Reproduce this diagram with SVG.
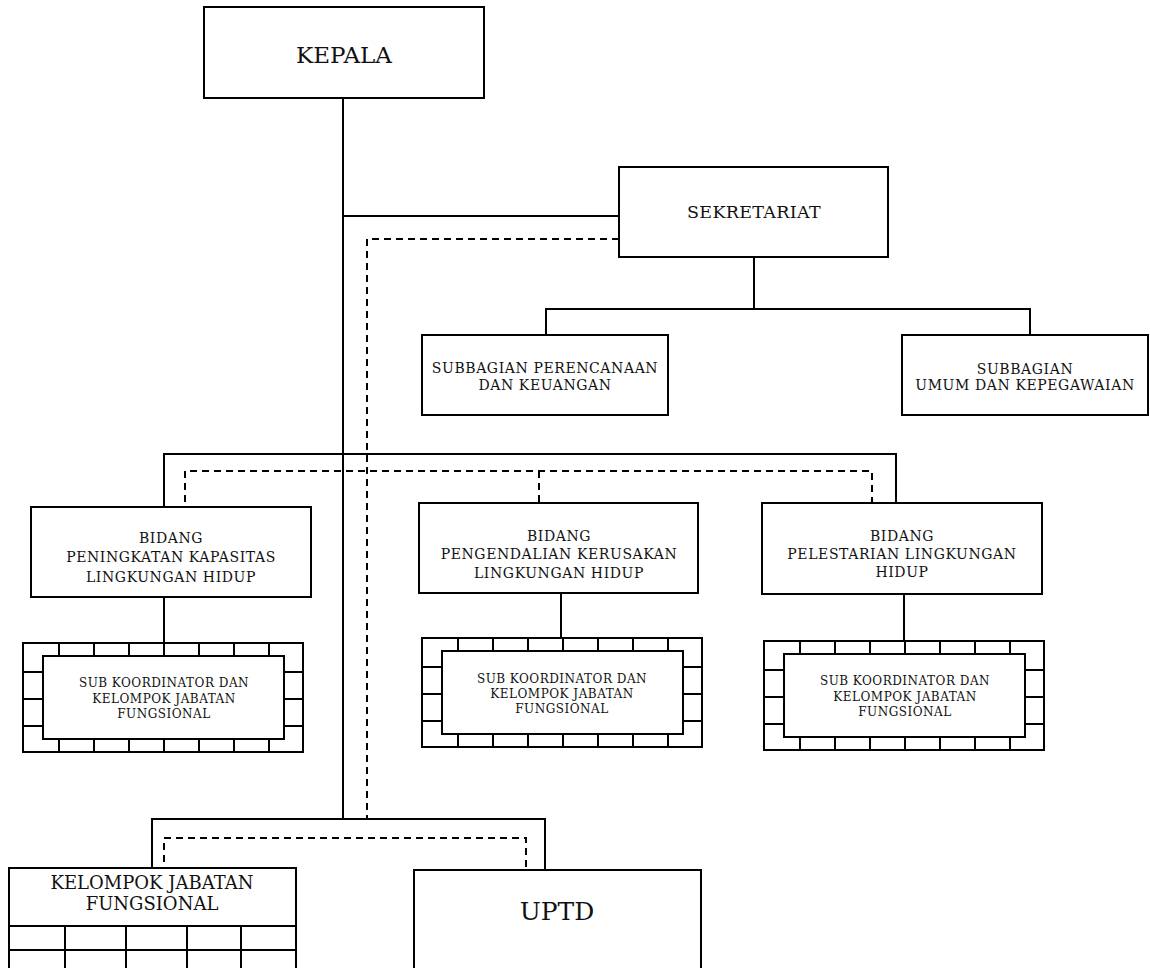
<svg xmlns="http://www.w3.org/2000/svg" width="1150" height="968" viewBox="0 0 1150 968">
  <style>
    .box { fill: #fff; stroke: #000; stroke-width: 2; }
    .ln { fill: none; stroke: #000; stroke-width: 2; }
    .dash { stroke-dasharray: 7 5; }
    text { font-family: "DejaVu Serif", "Liberation Serif", serif; fill: #111; text-anchor: middle; }
    .t22 { font-size: 23px; }
    .t17 { font-size: 17.5px; letter-spacing: 0.3px; }
    .t14 { font-size: 14px; letter-spacing: 0.6px; }
    .t12 { font-size: 12px; letter-spacing: 0.5px; }
    .t18 { font-size: 18px; }
    .t25 { font-size: 25px; }
  </style>
  <defs>
    <!-- brick-framed box: outer frame, inner panel, brick joints -->
    <g id="brick">
      <rect class="box" x="0" y="0" width="280" height="109"/>
      <rect class="box" x="20" y="13" width="241" height="83"/>
      <path class="ln" d="M36 0V13M71 0V13M106 0V13M141 0V13M176 0V13M211 0V13M246 0V13
                          M36 96V109M71 96V109M106 96V109M141 96V109M176 96V109M211 96V109M246 96V109
                          M0 29H20M0 56H20M0 83H20M261 29H280M261 56H280M261 83H280"/>
    </g>
  </defs>

  <g id="connectors">
    <path class="ln" d="M343 98V819"/>
    <path class="ln" d="M343 216H619"/>
    <path class="ln dash" d="M619 239H367V819"/>
    <path class="ln" d="M754 257V309M546 335V309H1030V335"/>
    <path class="ln" d="M164 507V454H896V503"/>
    <path class="ln dash" d="M185 502V471H872V502M539 471V502"/>
    <path class="ln" d="M164 597V643M561 593V638M904 594V641"/>
    <path class="ln" d="M152 868V819H545V870"/>
    <path class="ln dash" d="M164 862V838H526V870"/>
  </g>

  <g id="kepala">
    <rect class="box" x="204" y="7" width="280" height="91"/>
    <text class="t22" x="344" y="63">KEPALA</text>
  </g>

  <g id="sekretariat">
    <rect class="box" x="619" y="167" width="269" height="90"/>
    <text class="t17" x="754" y="218">SEKRETARIAT</text>
  </g>

  <g id="subbagian-perencanaan">
    <rect class="box" x="422" y="335" width="246" height="80"/>
    <text class="t14" x="545" y="373">SUBBAGIAN PERENCANAAN</text>
    <text class="t14" x="545" y="390">DAN KEUANGAN</text>
  </g>

  <g id="subbagian-umum">
    <rect class="box" x="902" y="335" width="246" height="80"/>
    <text class="t14" x="1025" y="374">SUBBAGIAN</text>
    <text class="t14" x="1025" y="390">UMUM DAN KEPEGAWAIAN</text>
  </g>

  <g id="bidang-kapasitas">
    <rect class="box" x="31" y="507" width="280" height="90"/>
    <text class="t14" x="171" y="543">BIDANG</text>
    <text class="t14" x="171" y="562">PENINGKATAN KAPASITAS</text>
    <text class="t14" x="171" y="582">LINGKUNGAN HIDUP</text>
  </g>

  <g id="bidang-pengendalian">
    <rect class="box" x="419" y="503" width="279" height="90"/>
    <text class="t14" x="559" y="541">BIDANG</text>
    <text class="t14" x="559" y="559">PENGENDALIAN KERUSAKAN</text>
    <text class="t14" x="559" y="578">LINGKUNGAN HIDUP</text>
  </g>

  <g id="bidang-pelestarian">
    <rect class="box" x="762" y="503" width="280" height="91"/>
    <text class="t14" x="902" y="541">BIDANG</text>
    <text class="t14" x="902" y="559">PELESTARIAN LINGKUNGAN</text>
    <text class="t14" x="902" y="577">HIDUP</text>
  </g>

  <g id="subkoor-kapasitas">
    <use href="#brick" x="23" y="643"/>
    <text class="t12" x="164" y="687">SUB KOORDINATOR DAN</text>
    <text class="t12" x="164" y="703">KELOMPOK JABATAN</text>
    <text class="t12" x="164" y="718">FUNGSIONAL</text>
  </g>

  <g id="subkoor-pengendalian">
    <use href="#brick" x="422" y="638"/>
    <text class="t12" x="562" y="683">SUB KOORDINATOR DAN</text>
    <text class="t12" x="562" y="698">KELOMPOK JABATAN</text>
    <text class="t12" x="562" y="713">FUNGSIONAL</text>
  </g>

  <g id="subkoor-pelestarian">
    <use href="#brick" x="764" y="641"/>
    <text class="t12" x="905" y="685">SUB KOORDINATOR DAN</text>
    <text class="t12" x="905" y="701">KELOMPOK JABATAN</text>
    <text class="t12" x="905" y="716">FUNGSIONAL</text>
  </g>

  <g id="kelompok-jabatan">
    <rect class="box" x="9" y="868" width="287" height="104"/>
    <path class="ln" d="M9 926H296M9 950H296M65 926V972M126 926V972M187 926V972M241 926V972"/>
    <text class="t18" x="152" y="889">KELOMPOK JABATAN</text>
    <text class="t18" x="152" y="910">FUNGSIONAL</text>
  </g>

  <g id="uptd">
    <rect class="box" x="414" y="870" width="287" height="104"/>
    <text class="t25" x="557" y="920">UPTD</text>
  </g>
</svg>
